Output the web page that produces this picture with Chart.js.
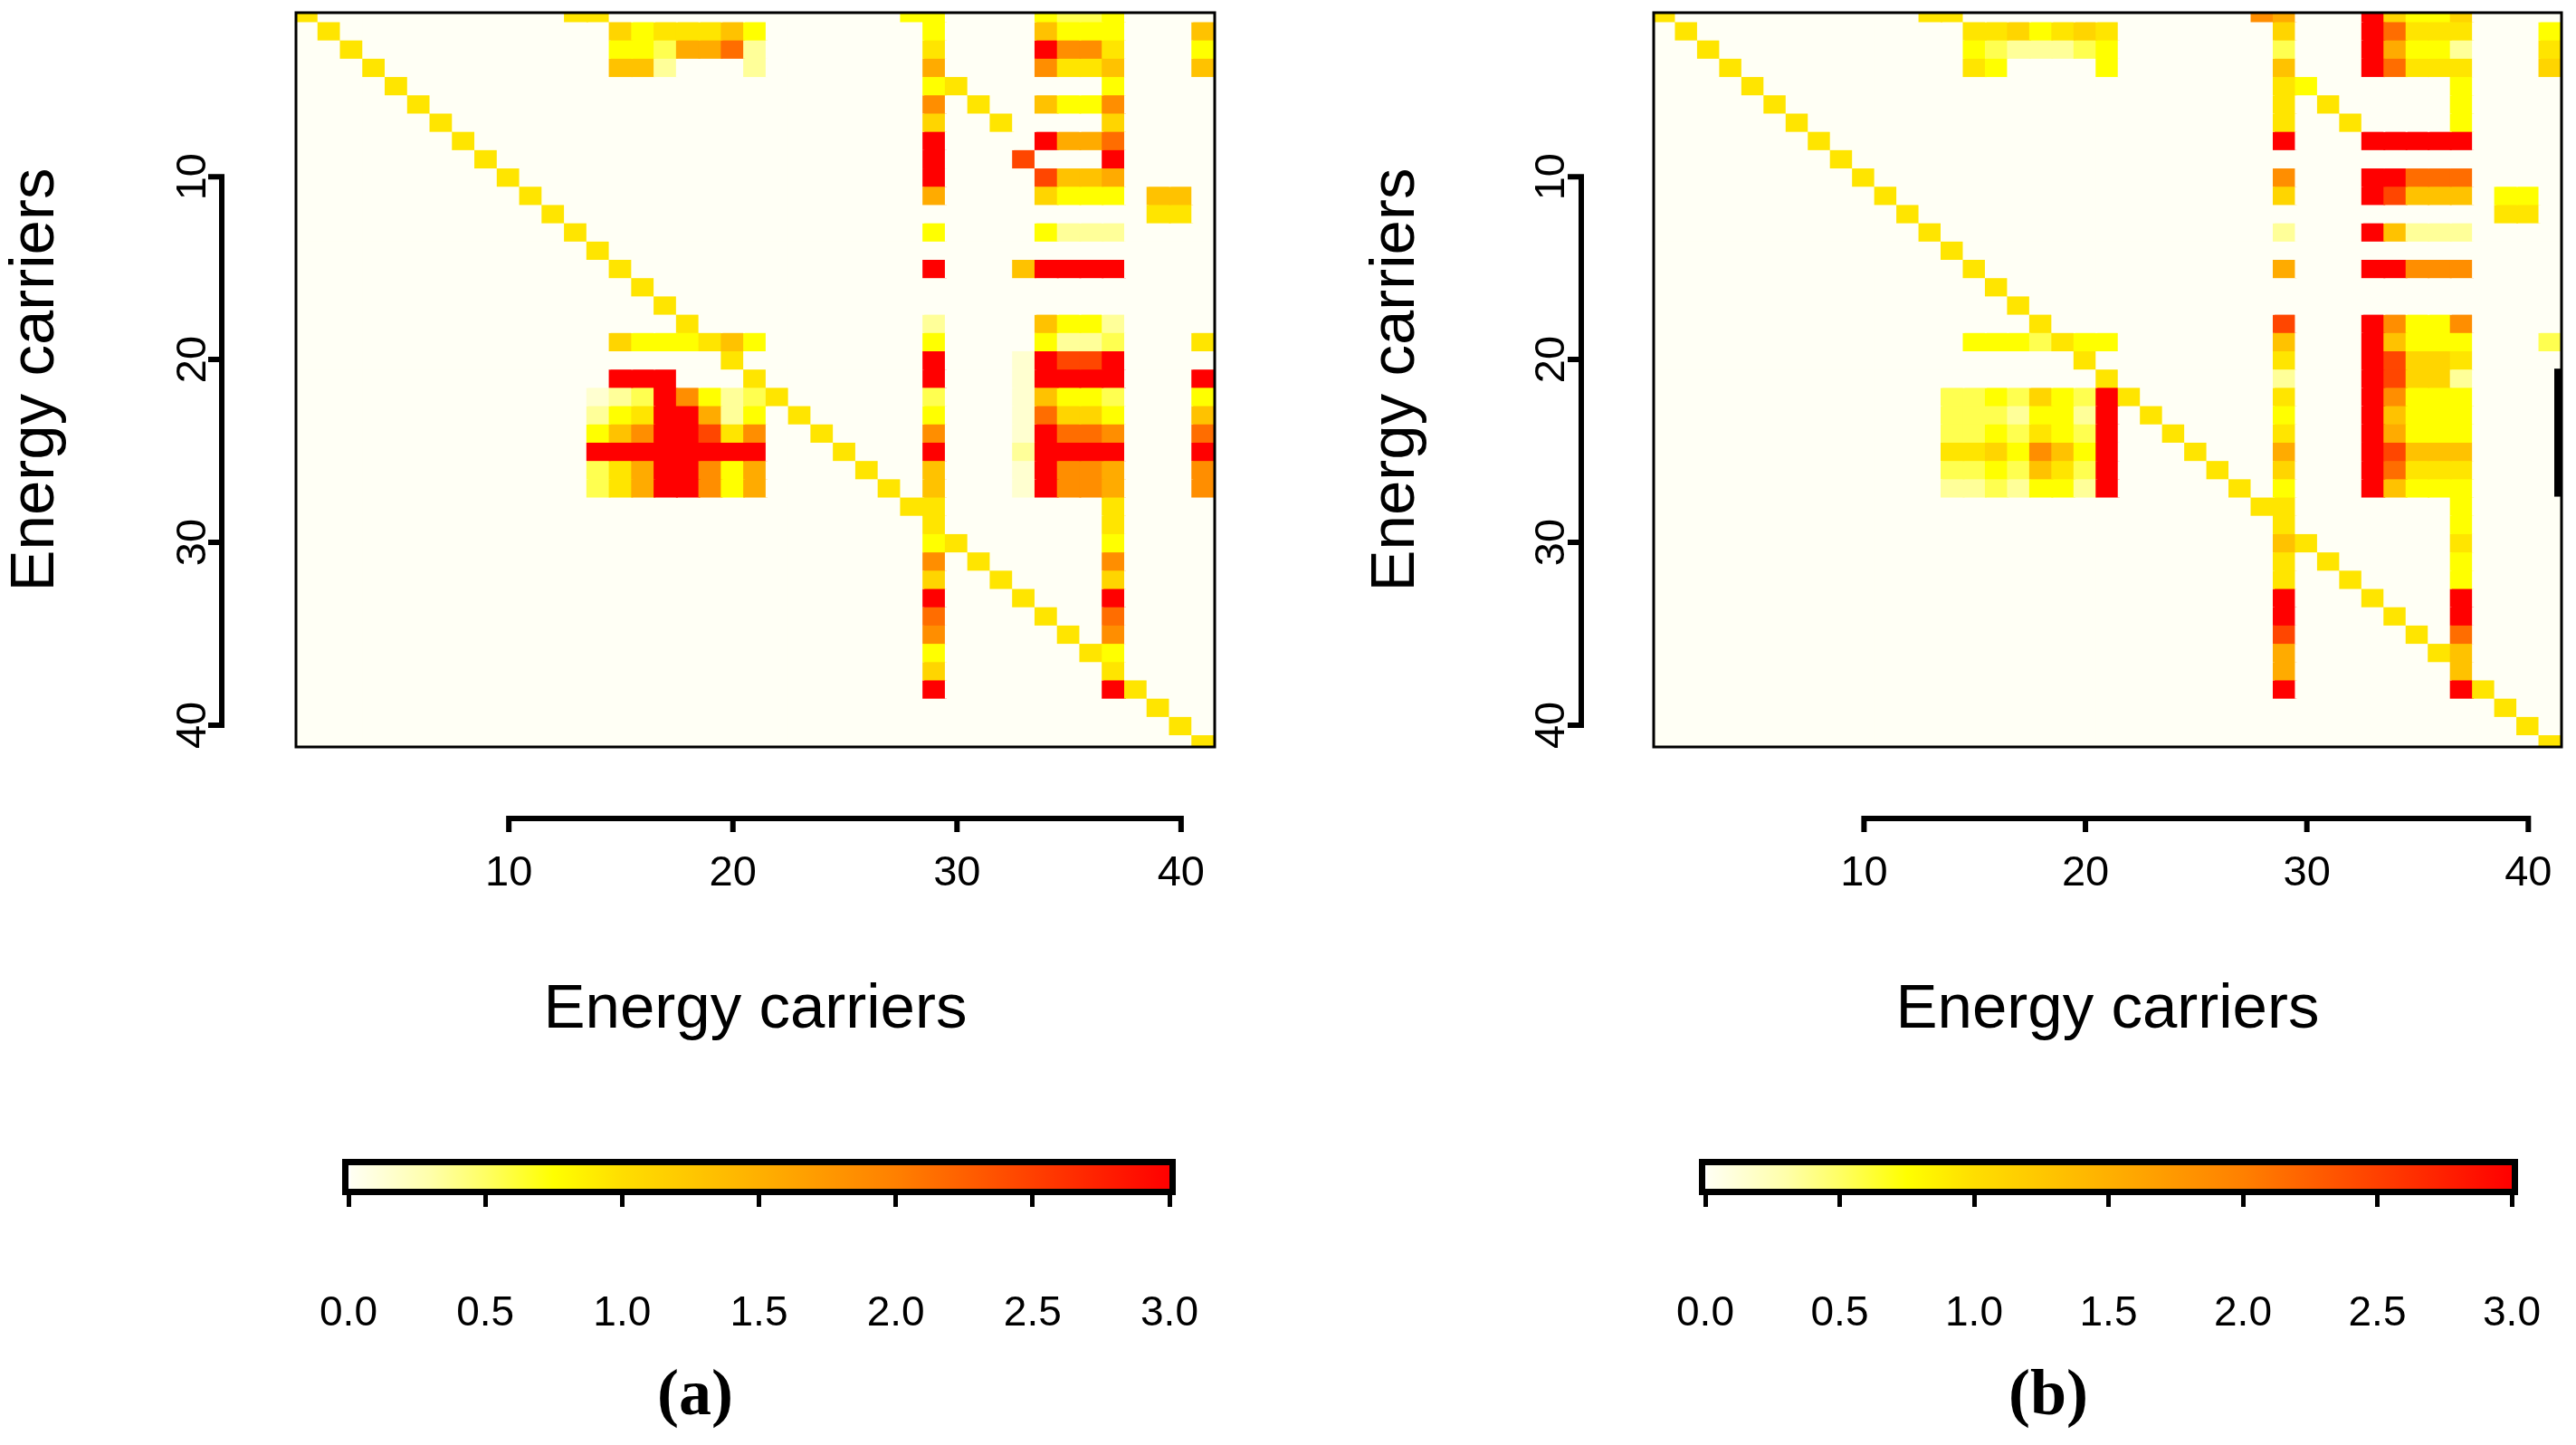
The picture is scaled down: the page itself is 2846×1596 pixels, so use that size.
<!DOCTYPE html>
<html>
<head>
<meta charset="utf-8">
<script src="https://cdn.jsdelivr.net/npm/chart.js@4.4.1/dist/chart.umd.min.js"></script>
<style>
html,body{margin:0;padding:0;background:#ffffff;width:2846px;height:1596px;overflow:hidden;}
canvas{position:absolute;display:block;}
.lab{position:absolute;width:200px;text-align:center;font-family:"Liberation Serif","Times New Roman",serif;font-weight:bold;font-size:72px;line-height:1;color:#000;}
</style>
</head>
<body>
<canvas id="heatA" width="1423" height="1200" style="left:0px;top:0px;width:1423px;height:1200px"></canvas>
<canvas id="heatB" width="1423" height="1200" style="left:1423px;top:0px;width:1423px;height:1200px"></canvas>
<canvas id="barA" width="1423" height="396" style="left:0px;top:1200px;width:1423px;height:396px"></canvas>
<canvas id="barB" width="1423" height="396" style="left:1423px;top:1200px;width:1423px;height:396px"></canvas>
<div class="lab" style="left:668px;top:1502px">(a)</div>
<div class="lab" style="left:2163px;top:1502px">(b)</div>
<script>
// ---------------- data ----------------
const carriers = [1,2,3,4,5,6,7,8,9,10,11,12,13,14,15,16,17,18,19,20,21,22,23,24,25,26,27,28,29,30,31,32,33,34,35,36,37,38,39,40,41];
const axisTicks = [10, 20, 30, 40];
const colorbarTicks = [0, 0.5, 1.0, 1.5, 2.0, 2.5, 3.0];
const xTitle = 'Energy carriers';
const yTitle = 'Energy carriers';
// cell codes -> values
const codeValues = {'.':0, 'p':0.15, 'l':0.35, 'm':0.55, 'y':0.75, 'g':0.95, 'h':1.1, 'o':1.3, 'b':1.55, 'n':1.85, 'd':2.15, 'e':2.45, 'r':3.0};
// rows 1..41 (top to bottom), columns 1..41 (groups of ten)
const panelA = [
  "g......... ..gg...... .......yy. ...ymmy... .",
  ".g........ ....hygggo y.......y. ...oyyy... o",
  "..g....... ....yymbbd l.......g. ...rnng... y",
  "...g...... ....ool... l.......b. ...nggo... o",
  "....g..... .......... ........yg ......y... .",
  ".....g.... .......... ........n. g..oyyn... .",
  "......g... .......... ........h. .g....h... .",
  ".......g.. .......... ........r. ...rbbd... .",
  "........g. .......... ........r. ..e...r... .",
  ".........g .......... ........r. ...eoob... .",
  ".......... g......... ........b. ...hyyy.oo .",
  ".......... .g........ .......... ........gg .",
  ".......... ..g....... ........y. ...ylll... .",
  ".......... ...g...... .......... .......... .",
  ".......... ....g..... ........r. ..orrrr... .",
  ".......... .....g.... .......... .......... .",
  ".......... ......g... .......... .......... .",
  ".......... .......g.. ........l. ...oyyl... .",
  ".......... ....hyyygo y.......y. ...yllm... g",
  ".......... .........g ........r. ..preer... .",
  ".......... ....rrr... g.......r. ..prrrr... r",
  ".......... ...plmrnyl mg......m. ..poyym... y",
  ".......... ...lygrrbl y.g.....y. ..pdhhy... o",
  ".......... ...yonrreg n..g....n. ..prddn... d",
  ".......... ...rrrrrrr r...g...r. ..lrrrr... r",
  ".......... ...mgbrrny b....g..o. ..prnnb... n",
  ".......... ...mgbrrny b.....g.o. ..prnnb... n",
  ".......... .......... .......gg. ......g... .",
  ".......... .......... ........g. ......g... .",
  ".......... .......... ........yg ......y... .",
  ".......... .......... ........n. g.....n... .",
  ".......... .......... ........h. .g....h... .",
  ".......... .......... ........r. ..g...r... .",
  ".......... .......... ........d. ...g..d... .",
  ".......... .......... ........n. ....g.n... .",
  ".......... .......... ........y. .....gy... .",
  ".......... .......... ........h. ......g... .",
  ".......... .......... ........r. ......rg.. .",
  ".......... .......... .......... ........g. .",
  ".......... .......... .......... .........g .",
  ".......... .......... .......... .......... g"
];
const panelB = [
  "g......... ..gg...... .......nb. ..rhyyh... .",
  ".g........ ....gghygh g.......h. ..rdggg... y",
  "..g....... ....ymlllm y.......m. ..rbyyl... g",
  "...g...... ....gy.... y.......o. ..rdggg... h",
  "....g..... .......... ........gy ......y... .",
  ".....g.... .......... ........g. g.....y... .",
  "......g... .......... ........g. .g....y... .",
  ".......g.. .......... ........r. ..rrrrr... .",
  "........g. .......... .......... .......... .",
  ".........g .......... ........n. ..rrddd... .",
  ".......... g......... ........h. ..reooo.yy .",
  ".......... .g........ .......... ........gg .",
  ".......... ..g....... ........l. ..rolll... .",
  ".......... ...g...... .......... .......... .",
  ".......... ....g..... ........b. ..rrnnn... .",
  ".......... .....g.... .......... .......... .",
  ".......... ......g... .......... .......... .",
  ".......... .......g.. ........e. ..rnyyn... .",
  ".......... ....yyymgy y.......o. ..royyy... m",
  ".......... .........g ........g. ..rehhg... .",
  ".......... .......... g.......l. ..rehhl... .",
  ".......... ...mmymhym rg......g. ..rnyyy... .",
  ".......... ...mmmlyyl r.g.....y. ..royyy... .",
  ".......... ...mmymgym r..g....g. ..rbyyy... .",
  ".......... ...gghynoy r...g...b. ..reooo... .",
  ".......... ...mmymogm r....g..h. ..rdggg... .",
  ".......... ...llmlyyl r.....g.y. ..royyy... .",
  ".......... .......... .......gg. ......y... .",
  ".......... .......... ........g. ......y... .",
  ".......... .......... ........og ......g... .",
  ".......... .......... ........g. g.....y... .",
  ".......... .......... ........g. .g....y... .",
  ".......... .......... ........r. ..g...r... .",
  ".......... .......... ........r. ...g..r... .",
  ".......... .......... ........e. ....g.d... .",
  ".......... .......... ........b. .....go... .",
  ".......... .......... ........b. ......o... .",
  ".......... .......... ........r. ......rg.. .",
  ".......... .......... .......... ........g. .",
  ".......... .......... .......... .........g .",
  ".......... .......... .......... .......... g"
];

// ---------------- style ----------------
const colorStops = [
  [0.0, [255,255,245]], [0.3, [255,255,170]], [0.5, [255,255,100]], [0.75, [255,255,0]],
  [1.0, [255,222,0]], [1.5, [255,176,0]], [2.0, [255,128,0]], [2.5, [255,64,0]], [3.0, [255,0,0]]
];
Chart.defaults.font.family = '"Liberation Sans", Arial, Helvetica, sans-serif';
Chart.defaults.color = '#000';

function valueToColor(v) {
  for (let i = 1; i < colorStops.length; i++) {
    const v0 = colorStops[i-1][0], c0 = colorStops[i-1][1];
    const v1 = colorStops[i][0], c1 = colorStops[i][1];
    if (v <= v1) {
      const t = (v - v0) / (v1 - v0);
      return 'rgb(' + c0.map((c, k) => Math.round(c + (c1[k] - c) * t)).join(',') + ')';
    }
  }
  return 'rgb(255,0,0)';
}

const frame = {
  id: 'frame',
  afterDraw(chart, args, o) {
    const {ctx, chartArea: a, scales: {x, y}} = chart;
    ctx.save();
    ctx.strokeStyle = '#000';
    ctx.fillStyle = '#000';
    ctx.lineWidth = 3;
    ctx.strokeRect(a.left, a.top, a.right - a.left, a.bottom - a.top);
    if (o.heavy) {
      const t = y.getPixelForValue(o.heavy[0]), b = y.getPixelForValue(o.heavy[1]);
      ctx.fillRect(a.right - 8, t, 9, b - t);
    }
    ctx.lineWidth = 6;
    ctx.lineCap = 'square';
    const first = axisTicks[0], last = axisTicks[axisTicks.length - 1];
    const ax = a.left - o.yGap;
    ctx.beginPath();
    ctx.moveTo(ax, y.getPixelForValue(first));
    ctx.lineTo(ax, y.getPixelForValue(last));
    for (const v of axisTicks) { const p = y.getPixelForValue(v); ctx.moveTo(ax, p); ctx.lineTo(ax - 12, p); }
    const ay = a.bottom + o.xGap;
    ctx.moveTo(x.getPixelForValue(first), ay);
    ctx.lineTo(x.getPixelForValue(last), ay);
    for (const v of axisTicks) { const p = x.getPixelForValue(v); ctx.moveTo(p, ay); ctx.lineTo(p, ay + 12); }
    ctx.stroke();
    ctx.restore();
  }
};

const cbFrame = {
  id: 'cbFrame',
  afterDatasetsDraw(chart) {
    const {ctx, chartArea: a} = chart;
    ctx.save();
    ctx.strokeStyle = '#000';
    ctx.lineWidth = 7;
    ctx.strokeRect(a.left - 3.5, a.top - 3.5, a.right - a.left + 7, a.bottom - a.top + 7);
    ctx.restore();
  }
};

function heatmap(id, matrix, L) {
  const datasets = matrix.map((rowStr, i) => {
    const codes = rowStr.replace(/\s/g, '').split('');
    return {
      label: 'row ' + carriers[i],
      data: codes.map((c, j) => ({x: carriers[j], y: [carriers[i] - 0.5, carriers[i] + 0.5]})),
      backgroundColor: codes.map(c => valueToColor(codeValues[c])),
      borderWidth: 0,
      inflateAmount: 1,
      grouped: false,
      barPercentage: 1,
      categoryPercentage: 1,
      clip: 0
    };
  });
  return new Chart(document.getElementById(id), {
    type: 'bar',
    data: {datasets},
    options: {
      responsive: false,
      animation: false,
      events: [],
      layout: {padding: {left: L.padLeft, right: L.padRight, top: 14, bottom: 0}},
      scales: {
        x: {
          type: 'linear', min: 0.5, max: 41.5, offset: false,
          afterBuildTicks: s => { s.ticks = axisTicks.map(v => ({value: v})); },
          afterFit: s => { s.height = 375; s.paddingLeft = 0; s.paddingRight = 0; },
          grid: {display: false, offset: false}, border: {display: false},
          ticks: {autoSkip: false, maxRotation: 0, minRotation: 0, padding: 104, font: {size: 47}, color: '#000'},
          title: {display: true, text: xTitle, color: '#000', font: {size: 69, lineHeight: 1}, padding: {top: 0, bottom: 49.5}}
        },
        y: {
          type: 'linear', reverse: true, min: 1.03, max: 41.19, offset: false,
          afterBuildTicks: s => { s.ticks = axisTicks.map(v => ({value: v})); },
          afterFit: s => { s.width = L.yWidth; s.paddingTop = 0; s.paddingBottom = 0; },
          grid: {display: false}, border: {display: false},
          ticks: {autoSkip: false, minRotation: 90, maxRotation: 90, crossAlign: 'center', padding: L.yTickPad, font: {size: 47}, color: '#000'},
          title: {display: true, text: yTitle, color: '#000', font: {size: 69, lineHeight: 1}, padding: {top: 5, bottom: 0}}
        }
      },
      plugins: {
        legend: {display: false},
        tooltip: {enabled: false},
        frame: {yGap: L.yGap, xGap: 79, heavy: L.heavy}
      }
    },
    plugins: [frame]
  });
}

function gradient(chart) {
  const {ctx, chartArea, scales} = chart;
  if (!chartArea || !scales.x) return 'rgba(0,0,0,0)';
  const x = scales.x;
  const g = ctx.createLinearGradient(x.getPixelForValue(colorbarTicks[0]), 0, x.getPixelForValue(colorbarTicks[colorbarTicks.length - 1]), 0);
  colorStops.forEach(([v, c]) => g.addColorStop(v / 3, 'rgb(' + c.join(',') + ')'));
  return g;
}

function colorbar(id, L) {
  return new Chart(document.getElementById(id), {
    type: 'bar',
    data: {
      labels: ['scale'],
      datasets: [{
        data: [[colorbarTicks[0], colorbarTicks[colorbarTicks.length - 1]]],
        backgroundColor: c => gradient(c.chart),
        borderWidth: 0, barPercentage: 1, categoryPercentage: 1
      }]
    },
    options: {
      indexAxis: 'y',
      responsive: false,
      animation: false,
      events: [],
      layout: {padding: {left: L.padLeft, right: L.padRight, top: 87, bottom: 0}},
      scales: {
        x: {
          type: 'linear', min: 0, max: 3, offset: false,
          afterBuildTicks: s => { s.ticks = colorbarTicks.map(v => ({value: v})); },
          afterFit: s => { s.height = 283; s.paddingLeft = 0; s.paddingRight = 0; },
          grid: {drawOnChartArea: false, drawTicks: true, tickLength: 20, lineWidth: 5, color: '#000'},
          border: {display: false},
          ticks: {autoSkip: false, maxRotation: 0, minRotation: 0, padding: 91, font: {size: 46}, color: '#000',
                  callback: v => Number(v).toFixed(1)}
        },
        y: {display: false}
      },
      plugins: {legend: {display: false}, tooltip: {enabled: false}}
    },
    plugins: [cbFrame]
  });
}

heatmap('heatA', panelA, {padLeft: 0, padRight: 81, yWidth: 327, yTickPad: 79, yGap: 82, heavy: null});
heatmap('heatB', panelB, {padLeft: 80.5, padRight: 16, yWidth: 323.5, yTickPad: 78, yGap: 80, heavy: [20.5, 27.5]});
colorbar('barA', {padLeft: 385, padRight: 131});
colorbar('barB', {padLeft: 461, padRight: 71});
</script>
</body>
</html>
